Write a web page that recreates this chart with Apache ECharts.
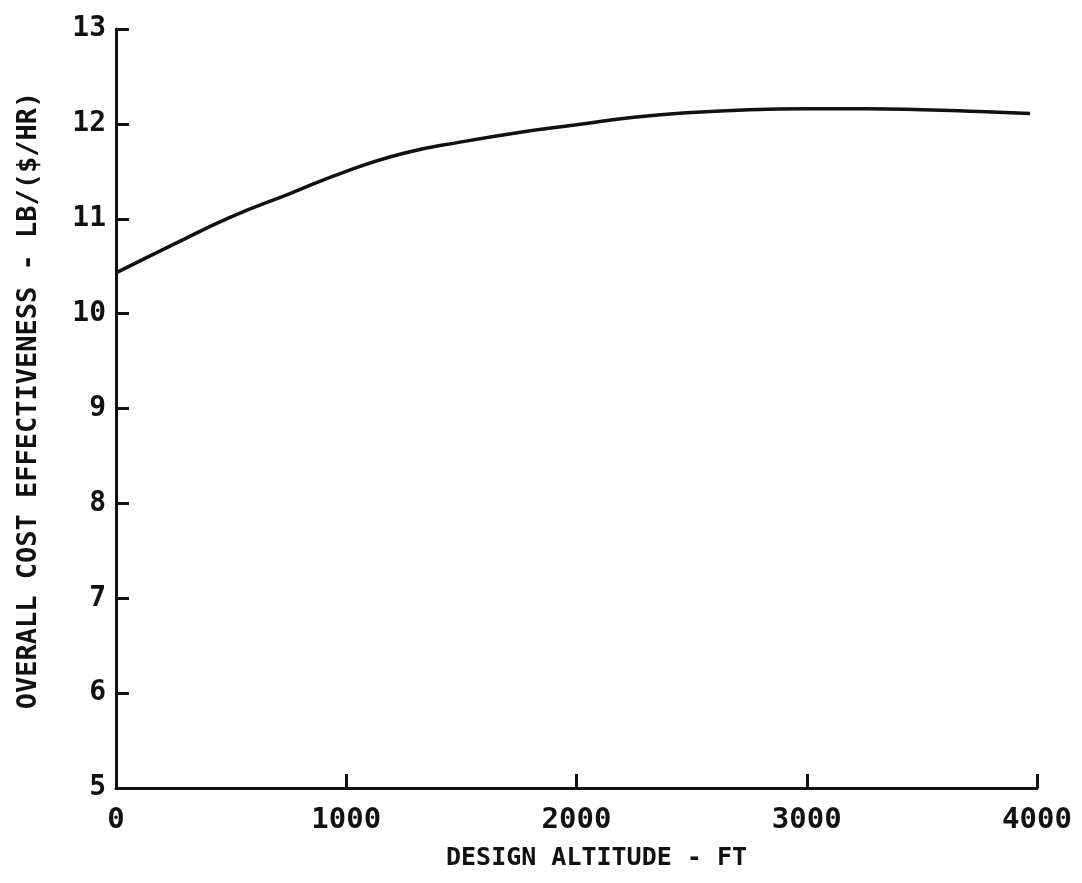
<!DOCTYPE html>
<html>
<head>
<meta charset="utf-8">
<title>Overall cost effectiveness vs design altitude</title>
<script src="https://cdn.jsdelivr.net/npm/echarts@6/dist/echarts.min.js"></script>
<style>
  html, body { margin: 0; padding: 0; background: #fff; }
  #chart { width: 1082px; height: 883px; }
</style>
</head>
<body>
<div id="chart"></div>
<script>
// data
var altitude = [0, 250, 500, 750, 1000, 1250, 1500, 1750, 2000, 2250, 2500, 2750, 3000, 3250, 3500, 3750, 3970];
var effectiveness = [10.43, 10.73, 11.02, 11.26, 11.50, 11.69, 11.81, 11.91, 11.99, 12.07, 12.12, 12.15, 12.16, 12.16, 12.15, 12.13, 12.11];
var xTicks = [0, 1000, 2000, 3000, 4000];
var yTicks = [5, 6, 7, 8, 9, 10, 11, 12, 13];

var font = '"DejaVu Sans Mono", "Liberation Mono", monospace';
var chart = echarts.init(document.getElementById('chart'));

var points = altitude.map(function (a, i) { return [a, effectiveness[i]]; });

chart.setOption({
  animation: false,
  backgroundColor: '#fff',
  grid: { left: 116, right: 45, top: 29, bottom: 95 },
  xAxis: {
    type: 'value',
    min: xTicks[0],
    max: xTicks[xTicks.length - 1],
    interval: 1000,
    name: 'DESIGN ALTITUDE - FT',
    nameLocation: 'middle',
    nameGap: 58,
    nameTextStyle: { fontFamily: font, fontWeight: 'bold', fontSize: 25, color: '#111', padding: [0, 0, 0, 40] },
    axisLine: { lineStyle: { color: '#111', width: 3 } },
    axisTick: { inside: true, length: 14, lineStyle: { color: '#111', width: 3 } },
    axisLabel: {
      margin: 18, fontFamily: font, fontWeight: 'bold', fontSize: 29, color: '#111',
      formatter: function (v) { return String(v); }
    },
    splitLine: { show: false }
  },
  yAxis: {
    type: 'value',
    min: yTicks[0],
    max: yTicks[yTicks.length - 1],
    interval: 1,
    name: 'OVERALL COST EFFECTIVENESS - LB/($/HR)',
    nameLocation: 'middle',
    nameGap: 74,
    nameRotate: 90,
    nameTextStyle: { fontFamily: font, fontWeight: 'bold', fontSize: 27, color: '#111', padding: [0, 0, 0, 16] },
    axisLine: { lineStyle: { color: '#111', width: 3 } },
    axisTick: { inside: true, length: 13, lineStyle: { color: '#111', width: 3 } },
    axisLabel: {
      margin: 10, fontFamily: font, fontWeight: 'bold', fontSize: 28, color: '#111',
      formatter: function (v) { return String(v); }
    },
    splitLine: { show: false }
  },
  series: [{
    type: 'line',
    data: points,
    smooth: true,
    showSymbol: false,
    lineStyle: { color: '#111', width: 3.5 }
  }]
});
</script>
</body>
</html>
